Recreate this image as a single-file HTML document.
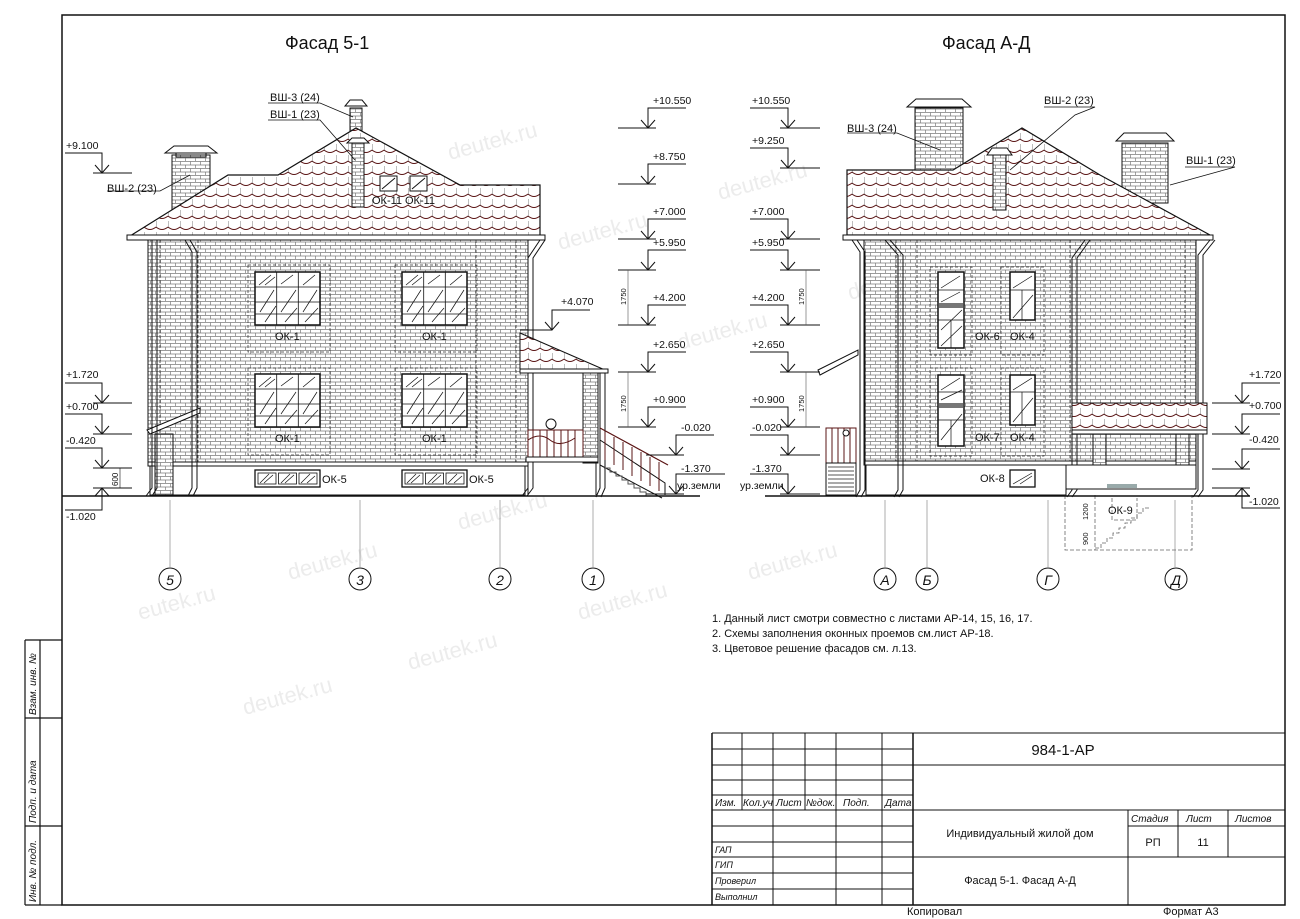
<!DOCTYPE html>
<html><head><meta charset="utf-8"><style>
html,body{margin:0;padding:0;background:#fff}
svg{display:block}
text{font-family:"Liberation Sans","DejaVu Sans",sans-serif;fill:#111}
.s{font-size:10.5px}
.t{font-size:11px}
</style></head><body>
<svg width="1300" height="919" viewBox="0 0 1300 919" xmlns="http://www.w3.org/2000/svg">
<defs>
<pattern id="brick" width="10" height="7" patternUnits="userSpaceOnUse">
<rect width="10" height="7" fill="#fff"/>
<path d="M0,0.5H10M0,4H10M0.5,0.5V4M5.5,4V7" stroke="#7a7a7a" stroke-width="0.7" fill="none"/>
</pattern>
<pattern id="tile" width="12" height="11" patternUnits="userSpaceOnUse">
<rect width="12" height="11" fill="#fff"/>
<path d="M0,7 Q6,12 12,7" stroke="#5a1414" stroke-width="1" fill="none"/>
<path d="M0,1V8" stroke="#444" stroke-width="0.7"/>
</pattern>
<g id="lvR"><path d="M-30,0H8M-7,-8L0,0L7,-8M0,0V-20H38" stroke="#111" stroke-width="1" fill="none"/></g>
<g id="lvL"><path d="M-8,0H32M-7,-8L0,0L7,-8M0,0V-20H-38" stroke="#111" stroke-width="1" fill="none"/></g>
<g id="w1">
<rect x="0" y="0" width="65" height="53" fill="#fff" stroke="#111" stroke-width="1.5"/>
<path d="M21.7,0V53M43.3,0V53M0,15H65M0,30H65M0,42H65" stroke="#111" stroke-width="0.8"/>
<path d="M4,13L16,3M10,13L20,5M26,12L38,3M48,13L60,3M5,40L19,18M10,50L21,34M26,40L41,18M30,50L42,36M48,40L62,18M50,50L63,36" stroke="#111" stroke-width="0.7"/>
</g>
<g id="w5">
<rect x="0" y="0" width="65" height="17" fill="#fff" stroke="#111" stroke-width="1.3"/>
<rect x="3" y="3" width="18" height="11" fill="none" stroke="#111" stroke-width="0.8"/>
<rect x="23.5" y="3" width="18" height="11" fill="none" stroke="#111" stroke-width="0.8"/>
<rect x="44" y="3" width="18" height="11" fill="none" stroke="#111" stroke-width="0.8"/>
<path d="M5,13L14,4M9,13L18,5M26,13L35,4M30,13L39,5M46,13L55,4M52,13L60,6" stroke="#111" stroke-width="0.7"/>
</g>
</defs>

<!-- watermarks -->
<g font-size="22" font-family="Liberation Sans, sans-serif">
<text x="450" y="160" transform="rotate(-15 450 160)" style="fill:#ececec">deutek.ru</text>
<text x="560" y="250" transform="rotate(-15 560 250)" style="fill:#ececec">deutek.ru</text>
<text x="720" y="200" transform="rotate(-15 720 200)" style="fill:#ececec">deutek.ru</text>
<text x="680" y="350" transform="rotate(-15 680 350)" style="fill:#ececec">deutek.ru</text>
<text x="460" y="530" transform="rotate(-15 460 530)" style="fill:#ececec">deutek.ru</text>
<text x="290" y="580" transform="rotate(-15 290 580)" style="fill:#ececec">deutek.ru</text>
<text x="140" y="620" transform="rotate(-15 140 620)" style="fill:#ececec">eutek.ru</text>
<text x="580" y="620" transform="rotate(-15 580 620)" style="fill:#ececec">deutek.ru</text>
<text x="750" y="580" transform="rotate(-15 750 580)" style="fill:#ececec">deutek.ru</text>
<text x="410" y="670" transform="rotate(-15 410 670)" style="fill:#ececec">deutek.ru</text>
<text x="245" y="715" transform="rotate(-15 245 715)" style="fill:#ececec">deutek.ru</text>
<text x="850" y="300" transform="rotate(-15 850 300)" style="fill:#ececec">deutek.ru</text>
</g>

<!-- frame -->
<rect x="62" y="15" width="1223" height="890" fill="none" stroke="#111" stroke-width="1.5"/>
<path d="M25,640H62M25,718H62M25,826H62M25,905H62M25,640V905M40,640V905" stroke="#111" stroke-width="1.2" fill="none"/>
<g font-size="10" font-style="italic">
<text transform="translate(36,715) rotate(-90)">Взам. инв. №</text>
<text transform="translate(36,823) rotate(-90)">Подп. и дата</text>
<text transform="translate(36,902) rotate(-90)">Инв. № подл.</text>
</g>

<text x="285" y="49" font-size="18">Фасад 5-1</text>
<text x="942" y="49" font-size="18">Фасад А-Д</text>

<!-- ===== Facade 5-1 ===== -->
<rect x="172" y="155" width="38" height="55" fill="url(#brick)" stroke="#111"/>
<path d="M165,153H217L208,146H174Z" fill="#fff" stroke="#111"/>
<rect x="176" y="153" width="30" height="4" fill="none" stroke="#111"/>
<rect x="350" y="108" width="12" height="30" fill="url(#brick)" stroke="#111"/>
<path d="M345,106H367L362,100H350Z" fill="#fff" stroke="#111"/>
<path d="M130,236L228,175L278,175L356,128L460,185L540,185L540,236Z" fill="url(#tile)" stroke="#111" stroke-width="1.2"/>
<rect x="352" y="143" width="12" height="64" fill="url(#brick)" stroke="#111"/>
<path d="M347,143H369L364,138H352Z" fill="#fff" stroke="#111"/>
<rect x="380" y="176" width="17" height="15" fill="#fff" stroke="#111"/><path d="M382,189L395,178" stroke="#111"/>
<rect x="410" y="176" width="17" height="15" fill="#fff" stroke="#111"/><path d="M412,189L425,178" stroke="#111"/>
<text x="372" y="204" class="t">ОК-11</text><text x="405" y="204" class="t">ОК-11</text>
<rect x="127" y="235" width="418" height="5" fill="#fff" stroke="#111"/>
<rect x="148" y="240" width="380" height="225" fill="url(#brick)" stroke="#111"/>
<path d="M160,240V465M198,240V465M476,240V465M516,240V465" stroke="#333" stroke-width="0.8" stroke-dasharray="3,2"/>
<rect x="148" y="462" width="380" height="4" fill="#fff" stroke="#111"/>
<rect x="150" y="466" width="375" height="29" fill="#fff" stroke="#111"/>
<path d="M147,430L200,408L200,413L150,434Z" fill="#fff" stroke="#111"/>
<rect x="155" y="434" width="18" height="61" fill="url(#brick)" stroke="#111"/>
<g stroke="#111" fill="none" stroke-width="1">
<path d="M152,240V488L146,496M157,240V488L152,496"/>
<path d="M185,240L192,252V488L188,496M190,240L197,252V488L193,496"/>
<path d="M540,240L528,258V488L522,496M545,240L533,258V488L527,496"/>
<path d="M600,372V488L596,497M605,372V488L601,497"/>
</g>
<use href="#w1" x="255" y="272"/><use href="#w1" x="402" y="272"/>
<use href="#w1" x="255" y="374"/><use href="#w1" x="402" y="374"/>
<path d="M248,265H330V352H248ZM395,265H477V352H395ZM248,368H330V455H248ZM395,368H477V455H395Z" fill="none" stroke="#333" stroke-width="0.7" stroke-dasharray="3,2"/>
<text x="275" y="340" class="t">ОК-1</text><text x="422" y="340" class="t">ОК-1</text>
<text x="275" y="442" class="t">ОК-1</text><text x="422" y="442" class="t">ОК-1</text>
<use href="#w5" x="255" y="470"/><use href="#w5" x="402" y="470"/>
<text x="322" y="483" class="t">ОК-5</text><text x="469" y="483" class="t">ОК-5</text>
<path d="M520,333L605,370L520,370Z" fill="url(#tile)" stroke="#111"/>
<rect x="520" y="369" width="88" height="4" fill="#fff" stroke="#111"/>
<rect x="583" y="373" width="15" height="90" fill="url(#brick)" stroke="#111"/>
<rect x="528" y="430" width="55" height="27" fill="#fff" stroke="#5a1414"/>
<path d="M533,430V457M540,430V457M547,430V457M554,430V457M561,430V457M568,430V457M575,430V457M528,440Q540,432 550,440T575,438" stroke="#5a1414" fill="none"/>
<circle cx="551" cy="424" r="5" fill="#fff" stroke="#111"/>
<rect x="526" y="457" width="72" height="5" fill="#fff" stroke="#111"/>
<path d="M528,462V495M596,462V495" stroke="#111"/>
<path d="M600,440L665,483V495M600,465L662,498" stroke="#111" fill="none"/>
<path d="M600,428L668,465" stroke="#5a1414" stroke-width="1.2"/>
<path d="M605,432V460M614,437V465M623,442V470M632,447V476M641,452V481M650,457V486M659,462V491" stroke="#5a1414"/>
<path d="M604,468h6v4h6v4h6v4h6v4h6v4h6v4h6v4h6" stroke="#555" fill="none"/>
<g stroke="#111" fill="none" stroke-width="0.8">
<path d="M268,103H320L353,117M268,120H320L355,160M107,191H160L190,175"/>
</g>
<text x="270" y="101" class="t">ВШ-3 (24)</text>
<text x="270" y="118" class="t">ВШ-1 (23)</text>
<text x="107" y="192" class="t">ВШ-2 (23)</text>
<path d="M520,330H552M545,322L552,330L559,322M552,330V310H590" stroke="#111" fill="none"/>
<text x="561" y="305" class="s">+4.070</text>
<path d="M62,496H700" stroke="#111" stroke-width="1.5"/>
<path d="M93,173H132M95,165L102,173L109,165M102,173V153H65" stroke="#111" fill="none"/>
<text x="66" y="149" class="s">+9.100</text>
<path d="M93,403H132M95,395L102,403L109,395M102,403V383H65" stroke="#111" fill="none"/><text x="66" y="378" class="s">+1.720</text>
<path d="M93,434H132M95,426L102,434L109,426M102,434V414H65" stroke="#111" fill="none"/><text x="66" y="410" class="s">+0.700</text>
<path d="M93,468H132M95,460L102,468L109,460M102,468V448H65" stroke="#111" fill="none"/><text x="66" y="444" class="s">-0.420</text>
<path d="M93,488H132M95,496L102,488L109,496M102,488V510H65" stroke="#111" fill="none"/><text x="66" y="520" class="s">-1.020</text>
<path d="M120,468V488" stroke="#111" stroke-width="0.6"/><text transform="translate(118,486) rotate(-90)" font-size="8">600</text>
<g class="s">
<use href="#lvR" x="648" y="128"/><text x="653" y="104">+10.550</text>
<use href="#lvR" x="648" y="184"/><text x="653" y="160">+8.750</text>
<use href="#lvR" x="648" y="239"/><text x="653" y="215">+7.000</text>
<use href="#lvR" x="648" y="270"/><text x="653" y="246">+5.950</text>
<use href="#lvR" x="648" y="325"/><text x="653" y="301">+4.200</text>
<use href="#lvR" x="648" y="372"/><text x="653" y="348">+2.650</text>
<use href="#lvR" x="648" y="427"/><text x="653" y="403">+0.900</text>
<use href="#lvR" x="676" y="455"/><text x="681" y="431">-0.020</text>
<path d="M646,494H684M669,486L676,494L683,486M676,494V474H725" stroke="#111" fill="none"/>
<text x="681" y="472">-1.370</text><text x="677" y="489">ур.земли</text>
</g>
<path d="M628,270V325M628,372V427" stroke="#555" stroke-width="0.6"/>
<text transform="translate(626,305) rotate(-90)" font-size="7.5">1750</text>
<text transform="translate(626,412) rotate(-90)" font-size="7.5">1750</text>
<g stroke="#777" stroke-width="0.6"><path d="M170,500V567M360,500V567M500,500V567M593,500V567"/></g>
<g fill="#fff" stroke="#111"><circle cx="170" cy="579" r="11"/><circle cx="360" cy="579" r="11"/><circle cx="500" cy="579" r="11"/><circle cx="593" cy="579" r="11"/></g>
<g font-size="14" font-style="italic" text-anchor="middle"><text x="170" y="585">5</text><text x="360" y="585">3</text><text x="500" y="585">2</text><text x="593" y="585">1</text></g>

<!-- ===== Facade A-Д ===== -->
<rect x="915" y="108" width="48" height="62" fill="url(#brick)" stroke="#111"/>
<path d="M907,107H971L962,99H916Z" fill="#fff" stroke="#111"/>
<rect x="1122" y="143" width="46" height="60" fill="url(#brick)" stroke="#111"/>
<path d="M1116,141H1174L1166,133H1124Z" fill="#fff" stroke="#111"/>
<path d="M847,170L953,170L1022,128L1100,175L1210,235L847,235Z" fill="url(#tile)" stroke="#111" stroke-width="1.2"/>
<rect x="993" y="155" width="13" height="55" fill="url(#brick)" stroke="#111"/>
<path d="M987,155H1012L1007,148H992Z" fill="#fff" stroke="#111"/>
<rect x="843" y="235" width="370" height="5" fill="#fff" stroke="#111"/>
<rect x="864" y="240" width="332" height="225" fill="url(#brick)" stroke="#111"/>
<path d="M896,240V465M917,240V465M1070,240V465M1185,240V465" stroke="#333" stroke-width="0.8" stroke-dasharray="3,2"/>
<rect x="864" y="461" width="332" height="4" fill="#fff" stroke="#111"/>
<rect x="866" y="465" width="200" height="30" fill="#fff" stroke="#111"/>
<path d="M818,370L858,350L858,355L820,375Z" fill="#fff" stroke="#111"/>
<rect x="826" y="428" width="30" height="35" fill="#fff" stroke="#5a1414"/>
<path d="M832,428V463M838,428V463M844,428V463M850,428V463" stroke="#5a1414"/>
<circle cx="846" cy="433" r="3" fill="#fff" stroke="#111"/>
<rect x="826" y="463" width="30" height="32" fill="#fff" stroke="#111"/>
<path d="M828,467H854M828,471H854M828,475H854M828,479H854M828,483H854M828,487H854M828,491H854" stroke="#555"/>
<g stroke="#111" fill="none">
<path d="M852,240L860,252V490L856,497M857,240L865,252V490L861,497"/>
<path d="M885,240L898,255V490L894,497M890,240L903,255V490L899,497"/>
<path d="M1085,240L1072,258V490L1067,497M1090,240L1077,258V490L1072,497"/>
<path d="M1210,240L1198,255V490L1193,497M1215,240L1203,255V490L1198,497"/>
</g>
<path d="M930,267H972V355H930ZM1001,267H1044V355H1001ZM930,368H972V456H930ZM1001,368H1044V456H1001Z" fill="none" stroke="#333" stroke-width="0.7" stroke-dasharray="3,2"/>
<g stroke="#111" fill="#fff">
<rect x="938" y="272" width="26" height="76" stroke-width="1.5"/>
<rect x="1010" y="272" width="25" height="48" stroke-width="1.5"/>
<rect x="938" y="375" width="26" height="71" stroke-width="1.5"/>
<rect x="1010" y="375" width="25" height="50" stroke-width="1.5"/>
<rect x="1010" y="470" width="25" height="17" stroke-width="1.3"/>
</g>
<rect x="939" y="303" width="24" height="5" fill="#777"/>
<rect x="939" y="403" width="24" height="5" fill="#777"/>
<g stroke="#111" stroke-width="0.7">
<path d="M938,290H964M938,320H964M951,320V348M1010,290H1035M1022,290V320M938,392H964M938,420H964M951,420V446M1010,392H1035M1022,392V425"/>
<path d="M941,288L960,276M941,302L960,292M941,330L962,310M941,346L962,326M1013,288L1032,276M1013,318L1033,295M941,390L960,378M941,400L962,390M941,440L962,414M1013,390L1032,378M1013,422L1033,398M1013,484L1032,473M1020,484L1032,476"/>
</g>
<text x="975" y="340" class="t">ОК-6</text><text x="1010" y="340" class="t">ОК-4</text>
<text x="975" y="441" class="t">ОК-7</text><text x="1010" y="441" class="t">ОК-4</text>
<text x="980" y="482" class="t">ОК-8</text>
<rect x="1072" y="403" width="135" height="30" fill="url(#tile)" stroke="#111"/>
<rect x="1072" y="430" width="135" height="4" fill="#fff" stroke="#111"/>
<rect x="1093" y="434" width="13" height="55" fill="url(#brick)" stroke="#111"/>
<rect x="1176" y="434" width="13" height="55" fill="url(#brick)" stroke="#111"/>
<rect x="1066" y="465" width="130" height="24" fill="#fff" stroke="#111"/>
<rect x="1107" y="484" width="30" height="4" fill="#9aa"/>
<g stroke="#666" stroke-width="0.8" fill="none" stroke-dasharray="4,2">
<path d="M1065,495V550H1192V495M1095,495V550M1112,498V520H1137V498"/>
<path d="M1095,548h6v-5h6v-5h6v-5h6v-5h6v-5h6v-5h6v-5h6v-5h6"/>
</g>
<text x="1108" y="514" class="t">ОК-9</text>
<text transform="translate(1088,520) rotate(-90)" font-size="7.5">1200</text>
<text transform="translate(1088,545) rotate(-90)" font-size="7.5">900</text>
<path d="M765,496H1250" stroke="#111" stroke-width="1.5"/>
<g stroke="#111" fill="none" stroke-width="0.8"><path d="M847,133H897L940,150M1044,107H1095L1075,115L1010,170M1185,167H1235L1170,185"/></g>
<text x="847" y="132" class="t">ВШ-3 (24)</text>
<text x="1044" y="104" class="t">ВШ-2 (23)</text>
<text x="1186" y="164" class="t">ВШ-1 (23)</text>
<g class="s">
<use href="#lvL" x="788" y="128"/><text x="752" y="104">+10.550</text>
<use href="#lvL" x="788" y="168"/><text x="752" y="144">+9.250</text>
<use href="#lvL" x="788" y="239"/><text x="752" y="215">+7.000</text>
<use href="#lvL" x="788" y="270"/><text x="752" y="246">+5.950</text>
<use href="#lvL" x="788" y="325"/><text x="752" y="301">+4.200</text>
<use href="#lvL" x="788" y="372"/><text x="752" y="348">+2.650</text>
<use href="#lvL" x="788" y="427"/><text x="752" y="403">+0.900</text>
<use href="#lvL" x="788" y="455"/><text x="752" y="431">-0.020</text>
<path d="M780,494H820M781,486L788,494L795,486M788,494V474H750" stroke="#111" fill="none"/>
<text x="752" y="472">-1.370</text><text x="740" y="489">ур.земли</text>
</g>
<path d="M806,270V325M806,372V427" stroke="#555" stroke-width="0.6"/>
<text transform="translate(804,305) rotate(-90)" font-size="7.5">1750</text>
<text transform="translate(804,412) rotate(-90)" font-size="7.5">1750</text>
<g class="s">
<path d="M1212,403H1250M1235,395L1242,403L1249,395M1242,403V383H1280" stroke="#111" fill="none"/><text x="1249" y="378">+1.720</text>
<path d="M1212,434H1250M1235,426L1242,434L1249,426M1242,434V414H1280" stroke="#111" fill="none"/><text x="1249" y="409">+0.700</text>
<path d="M1212,469H1250M1235,461L1242,469L1249,461M1242,469V449H1280" stroke="#111" fill="none"/><text x="1249" y="443">-0.420</text>
<path d="M1212,488H1250M1235,496L1242,488L1249,496M1242,488V508H1280" stroke="#111" fill="none"/><text x="1249" y="505">-1.020</text>
</g>
<g stroke="#777" stroke-width="0.6"><path d="M885,500V567M927,500V567M1048,500V567M1175,500V567"/></g>
<g fill="#fff" stroke="#111"><circle cx="885" cy="579" r="11"/><circle cx="927" cy="579" r="11"/><circle cx="1048" cy="579" r="11"/><circle cx="1176" cy="579" r="11"/></g>
<g font-size="14" font-style="italic" text-anchor="middle"><text x="885" y="585">А</text><text x="927" y="585">Б</text><text x="1048" y="585">Г</text><text x="1176" y="585">Д</text></g>

<g font-size="11">
<text x="712" y="622">1. Данный лист смотри совместно с листами АР-14, 15, 16, 17.</text>
<text x="712" y="637">2. Схемы заполнения оконных проемов см.лист АР-18.</text>
<text x="712" y="652">3. Цветовое решение фасадов см. л.13.</text>
</g>

<g stroke="#111" fill="none">
<path d="M712,733H1285M712,749H913M712,765H1285M712,780H913M712,795H913M712,810H1285M712,826H913M1128,826H1285M712,842H913M712,857H1285M712,873H913M712,889H913" stroke-width="1"/>
<path d="M712,733V905M913,733V905" stroke-width="1.5"/>
<path d="M742,733V810M773,733V905M805,733V810M836,733V905M882,733V905M1128,810V905M1178,810V857M1228,810V857" stroke-width="1"/>
</g>
<g font-size="10" font-style="italic">
<text x="715" y="806">Изм.</text><text x="743" y="806">Кол.уч</text><text x="776" y="806">Лист</text><text x="806" y="806">№док.</text><text x="843" y="806">Подп.</text><text x="885" y="806">Дата</text>
<text x="715" y="853" font-size="9">ГАП</text><text x="715" y="868" font-size="9">ГИП</text><text x="715" y="884" font-size="9">Проверил</text><text x="715" y="900" font-size="9">Выполнил</text>
<text x="1131" y="822">Стадия</text><text x="1186" y="822">Лист</text><text x="1235" y="822">Листов</text>
</g>
<text x="1063" y="755" font-size="15" text-anchor="middle">984-1-АР</text>
<text x="1020" y="837" font-size="11" text-anchor="middle">Индивидуальный жилой дом</text>
<text x="1020" y="884" font-size="11" text-anchor="middle">Фасад 5-1. Фасад А-Д</text>
<text x="1153" y="846" font-size="11" text-anchor="middle">РП</text>
<text x="1203" y="846" font-size="11" text-anchor="middle">11</text>
<text x="907" y="915" font-size="11">Копировал</text>
<text x="1163" y="915" font-size="11">Формат А3</text>
</svg>
</body></html>
